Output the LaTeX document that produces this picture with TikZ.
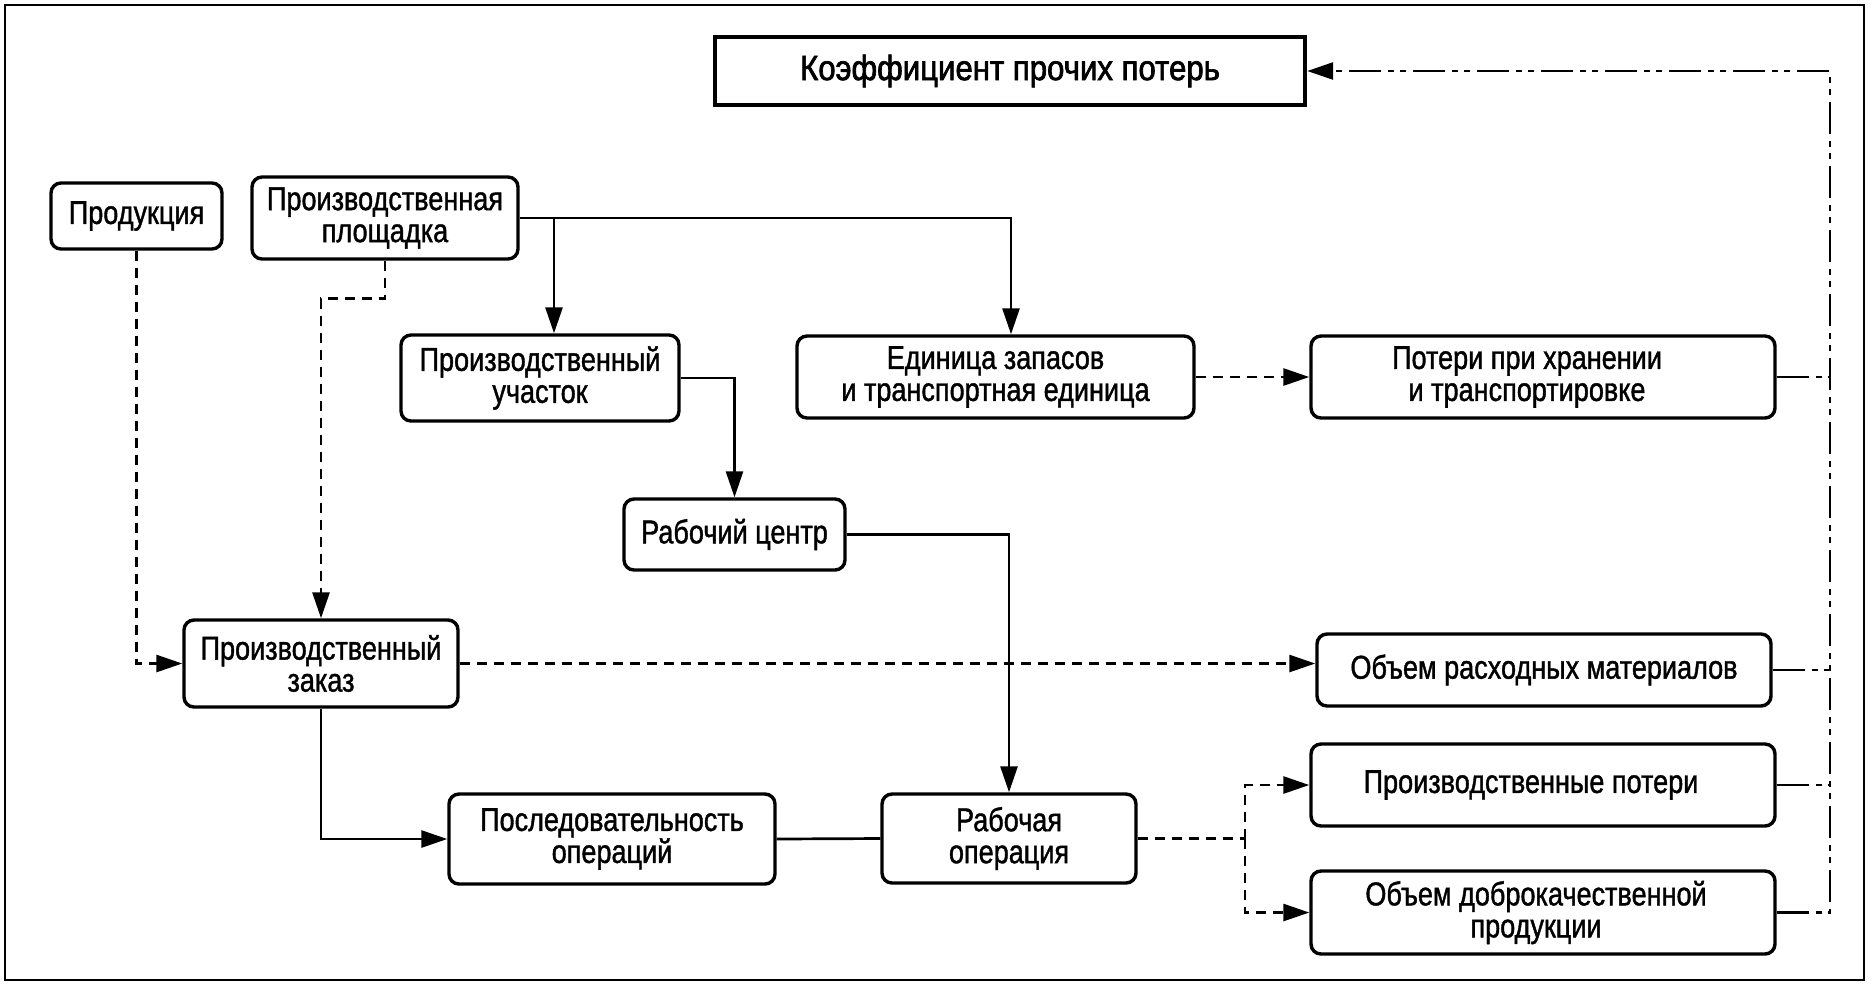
\documentclass[tikz,border=0pt]{standalone}
\usepackage{fontspec}
\setmainfont{Liberation Sans}[FakeStretch=0.82,FakeBold=1.2]
\newfontfamily\titlefont{Liberation Sans}[FakeStretch=0.89,FakeBold=2]
\usetikzlibrary{arrows.meta}
\begin{document}
\begin{tikzpicture}[x=0.5pt,y=-0.5pt,
  box/.style={draw,line width=1.7pt,rounded corners=5pt,align=center,inner sep=0pt,
    font=\fontsize{16.5}{16}\selectfont},
  txt/.style={align=center,inner sep=0pt,font=\fontsize{16.5}{16}\selectfont},
  conn/.style={line width=1.35pt},
  arr/.style={-{Triangle[length=13pt,width=8.5pt]}},
  dsh/.style={dash pattern=on 5pt off 3.5pt},
  ddot/.style={dash pattern=on 16pt off 3.5pt on 3pt off 3pt on 3pt off 3.5pt},
]
\useasboundingbox (0,0) rectangle (1872,987);
\draw[line width=1.1pt] (5,5) rectangle (1864,980);

\node[draw,line width=2.2pt,minimum width=295pt,minimum height=34pt,inner sep=0pt,
  font=\titlefont\fontsize{17.5}{18}\selectfont] (title) at (1010,71) {Коэффициент прочих потерь};

\node[box,minimum width=85.5pt,minimum height=33pt] (prod) at (136.5,216) {Продукция};
\node[box,minimum width=133pt,minimum height=41pt] (plosh) at (385,218) {Производственная\\площадка};
\node[box,minimum width=139pt,minimum height=43pt] (uch) at (540,378) {Производственный\\участок};
\node[box,minimum width=198.5pt,minimum height=41pt] (ed) at (995.5,377) {Единица запасов\\и транспортная единица};
\node[box,minimum width=232pt,minimum height=41pt] (phr) at (1543,377) {};
\node[txt] (phr-t) at (1527,377) {Потери при хранении\\и транспортировке};
\node[box,minimum width=110.5pt,minimum height=35.5pt] (rc) at (734.5,534.5) {Рабочий центр};
\node[box,minimum width=137pt,minimum height=43.5pt] (zak) at (321,663.5) {Производственный\\заказ};
\node[box,minimum width=227pt,minimum height=36pt] (obrm) at (1544,670) {Объем расходных материалов};
\node[box,minimum width=232pt,minimum height=41pt] (prpot) at (1543,785) {};
\node[txt] (prpot-t) at (1531,785) {Производственные потери};
\node[box,minimum width=163pt,minimum height=45pt] (posl) at (612,839) {Последовательность\\операций};
\node[box,minimum width=127pt,minimum height=44.5pt] (rabop) at (1009,838.5) {Рабочая\\операция};
\node[box,minimum width=232pt,minimum height=41.5pt] (dobr) at (1543,912.5) {};
\node[txt] (dobr-t) at (1536,912.5) {Объем доброкачественной\\продукции};

\coordinate (j1) at (1011,218);
\coordinate (j2) at (554,218);
\coordinate (j3) at (1245,838.5);
\coordinate (v) at (1830,71);

\draw[conn,arr] (plosh.east) -- (j1) -- (ed.north -| j1);
\draw[conn,arr] (j2) -- (uch.north -| j2);
\draw[conn,arr] (uch.east) -| (rc.north);
\draw[conn,arr] (rc.east) -| (rabop.north);
\draw[conn,dsh,arr] (ed.east) -- (phr.west);
\draw[conn,dsh,arr] (plosh.south) -- ++(0,38) -| (zak.north);
\draw[conn,dsh,arr] (prod.south) |- (zak.west);
\draw[conn,dsh,arr] (zak.east) -- (zak.east -| obrm.west);
\draw[conn,arr] (zak.south) |- (posl.west);
\draw[conn] (posl.east) -- (rabop.west);
\draw[conn,dsh] (rabop.east) -- (j3);
\draw[conn,dsh,arr] (j3) |- (prpot.west);
\draw[conn,dsh,arr] (j3) |- (dobr.west);

\draw[conn,ddot] (phr.east) -- (phr.east -| v);
\draw[conn,ddot] (obrm.east) -- (obrm.east -| v);
\draw[conn,ddot] (prpot.east) -- (prpot.east -| v);
\draw[conn,ddot,arr] (dobr.east) -| (v) -- (title.east);
\end{tikzpicture}
\end{document}
